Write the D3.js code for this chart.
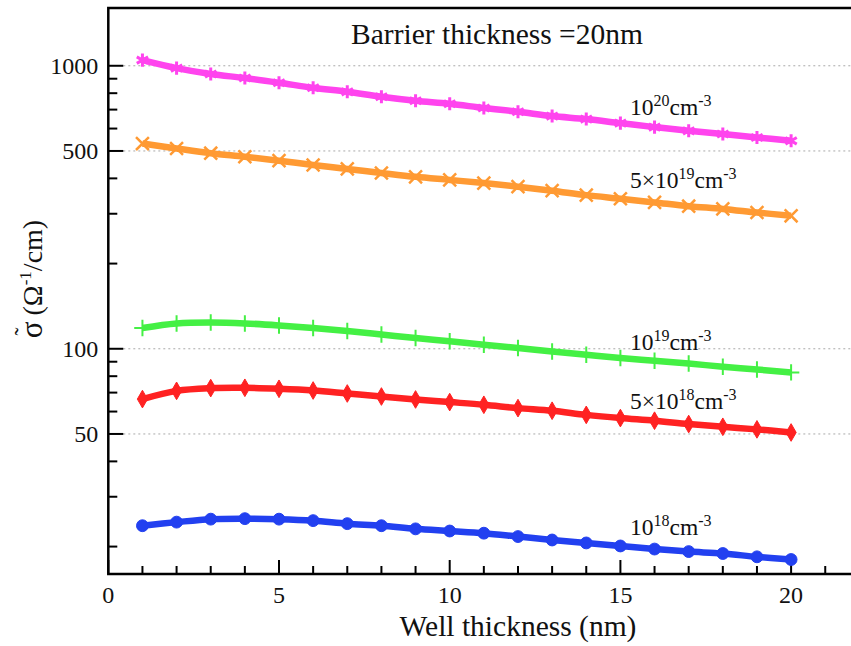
<!DOCTYPE html>
<html lang="en">
<head>
    <title>Conductivity vs well thickness</title>
    <script src="https://d3js.org/d3.v7.min.js"></script>
    <style>
      body { margin: 0; background: #fff; }
      text { font-family: "Liberation Serif", "Times New Roman", serif; fill: #111; }
    </style>
</head>
<body>
<div id="dataviz"></div>

<script>
  // well thickness (nm)
  var wells = [1,2,3,4,5,6,7,8,9,10,11,12,13,14,15,16,17,18,19,20];

  // sigma (1/ohm cm), one array per doping level
  var dop1e20 = [1047,981,935,905,871,836,809,777,752,734,709,688,664,648,627,607,589,574,558,543];
  var dop5e19 = [531,510,491,477,462,446,432,418,405,395,385,374,362,349,339,329,319,312,303,295];
  var dop1e19 = [118.4,122.9,123.8,122.9,120.9,118.4,115.5,112.3,109.1,106.3,103.3,100.6,97.8,95.2,92.7,90.7,88.7,86.4,84.5,82.5];
  var dop5e18 = [66.4,71.0,72.6,72.8,72.2,71.2,69.5,67.8,66.2,64.8,63.4,61.7,60.4,58.4,56.9,55.7,54.2,53.0,51.9,50.6];
  var dop1e18 = [23.7,24.4,25.0,25.1,25.0,24.7,24.1,23.7,23.1,22.7,22.3,21.7,21.1,20.6,20.1,19.6,19.2,18.9,18.4,18.0];

  var xTicks = [0,5,10,15,20];
  var yLabelTicks = [50,100,500,1000];

  var W = 851, H = 646;
  var plotLeft = 108.3, plotTop = 8, plotBottom = 574;

  var svg = d3.select("#dataviz")
    .append("svg")
    .attr("width", W)
    .attr("height", H);

  var x = d3.scaleLinear().domain([0, 21.8]).range([plotLeft, plotLeft + 21.8 * 34.14]);
  var y = d3.scaleLog().domain([16, 1600]).range([plotBottom, plotTop]);

  // dotted grid lines at the labelled values
  svg.append("g").selectAll("line")
    .data(yLabelTicks)
    .enter().append("line")
      .attr("x1", plotLeft + 15)
      .attr("x2", W)
      .attr("y1", function(d){ return y(d); })
      .attr("y2", function(d){ return y(d); })
      .attr("stroke", "#aaa")
      .attr("stroke-width", 1)
      .attr("stroke-dasharray", "2,3");

  // y ticks, drawn inward (20..90, 100..1000)
  var yMinor = [];
  [10,100].forEach(function(dec){
    for (var k = 2; k <= 10; k++) {
      var v = k * dec;
      if (v >= 20 && v <= 1000 && yMinor.indexOf(v) < 0) yMinor.push(v);
    }
  });
  var yAxis = svg.append("g").attr("transform", "translate(" + plotLeft + ",0)");
  yAxis.selectAll("line")
    .data(yMinor)
    .enter().append("line")
      .attr("x1", 0)
      .attr("x2", function(d){ return yLabelTicks.indexOf(d) >= 0 ? 15 : 9; })
      .attr("y1", function(d){ return y(d); })
      .attr("y2", function(d){ return y(d); })
      .attr("stroke", "#000")
      .attr("stroke-width", 2);
  yAxis.selectAll("text")
    .data(yLabelTicks)
    .enter().append("text")
      .attr("x", -10)
      .attr("y", function(d){ return y(d); })
      .attr("dy", "0.35em")
      .attr("text-anchor", "end")
      .style("font-size", "24px")
      .text(function(d){ return d; });

  // x ticks, inward
  var xMinor = d3.range(0, 22);
  var xAxis = svg.append("g").attr("transform", "translate(0," + plotBottom + ")");
  xAxis.selectAll("line")
    .data(xMinor)
    .enter().append("line")
      .attr("x1", function(d){ return x(d); })
      .attr("x2", function(d){ return x(d); })
      .attr("y1", 0)
      .attr("y2", function(d){ return d % 5 === 0 ? -14 : -8; })
      .attr("stroke", "#000")
      .attr("stroke-width", 2);
  xAxis.selectAll("text")
    .data(xTicks)
    .enter().append("text")
      .attr("x", function(d){ return x(d); })
      .attr("y", 29)
      .attr("text-anchor", "middle")
      .style("font-size", "24px")
      .text(function(d){ return d; });

  // frame
  svg.append("path")
    .attr("d", "M" + W + "," + plotTop + "H" + plotLeft + "V" + plotBottom + "H" + W)
    .attr("fill", "none")
    .attr("stroke", "#000")
    .attr("stroke-width", 2.5);

  var series = [
    {vals: dop1e20, color: "#ff44ee", sym: d3.symbolAsterisk, fill: false, size: 120, sw: 3},
    {vals: dop5e19, color: "#ff9a33", sym: d3.symbolTimes, fill: false, size: 110, sw: 2.5},
    {vals: dop1e19, color: "#44f044", sym: d3.symbolPlus, fill: false, size: 90, sw: 2},
    {vals: dop5e18, color: "#ff2222", sym: d3.symbolDiamond, fill: true, size: 90, sw: 1},
    {vals: dop1e18, color: "#2240f0", sym: d3.symbolCircle, fill: true, size: 110, sw: 1}
  ];

  var line = d3.line()
    .x(function(d, i){ return x(wells[i]); })
    .y(function(d){ return y(d); })
    .curve(d3.curveCatmullRom);

  series.forEach(function(s){
    var g = svg.append("g");
    g.append("path")
      .attr("d", line(s.vals))
      .attr("fill", "none")
      .attr("stroke", s.color)
      .attr("stroke-width", 6.5)
      .attr("stroke-linejoin", "round");
    g.selectAll("path.mark")
      .data(s.vals)
      .enter().append("path")
        .attr("class", "mark")
        .attr("transform", function(d, i){ return "translate(" + x(wells[i]) + "," + y(d) + ")"; })
        .attr("d", d3.symbol().type(s.sym).size(s.size))
        .attr("fill", s.fill ? s.color : "none")
        .attr("stroke", s.color)
        .attr("stroke-width", s.sw);
  });

  // curve labels
  var labels = [
    {pre: "", exp: "20", yy: 115},
    {pre: "5\u00d7", exp: "19", yy: 188},
    {pre: "", exp: "19", yy: 350},
    {pre: "5\u00d7", exp: "18", yy: 409},
    {pre: "", exp: "18", yy: 535}
  ];
  labels.forEach(function(l){
    var t = svg.append("text")
      .attr("x", 630)
      .attr("y", l.yy)
      .style("font-size", "23.5px");
    t.append("tspan").text(l.pre + "10");
    t.append("tspan").attr("dy", -9).style("font-size", "16px").text(l.exp);
    t.append("tspan").attr("dy", 9).text("cm");
    t.append("tspan").attr("dy", -9).style("font-size", "16px").text("-3");
  });

  // title and axis titles
  svg.append("text")
    .attr("x", 497)
    .attr("y", 44)
    .attr("text-anchor", "middle")
    .style("font-size", "29.5px")
    .text("Barrier thickness =20nm");

  svg.append("text")
    .attr("x", 518)
    .attr("y", 636)
    .attr("text-anchor", "middle")
    .style("font-size", "29.5px")
    .text("Well thickness (nm)");

  var yt = svg.append("text")
    .attr("transform", "translate(42,279) rotate(-90)")
    .attr("text-anchor", "middle")
    .style("font-size", "28px");
  yt.append("tspan").style("font-size", "31px").text("\u03c3");
  yt.append("tspan").attr("dx", -14).attr("dy", -11).style("font-size", "24px").text("\u02dc");
  yt.append("tspan").attr("dx", 5).attr("dy", 11).text(" (\u03a9");
  yt.append("tspan").attr("dy", -11).style("font-size", "17px").text("-1");
  yt.append("tspan").attr("dy", 11).text("/cm)");
</script>
</body>
</html>
